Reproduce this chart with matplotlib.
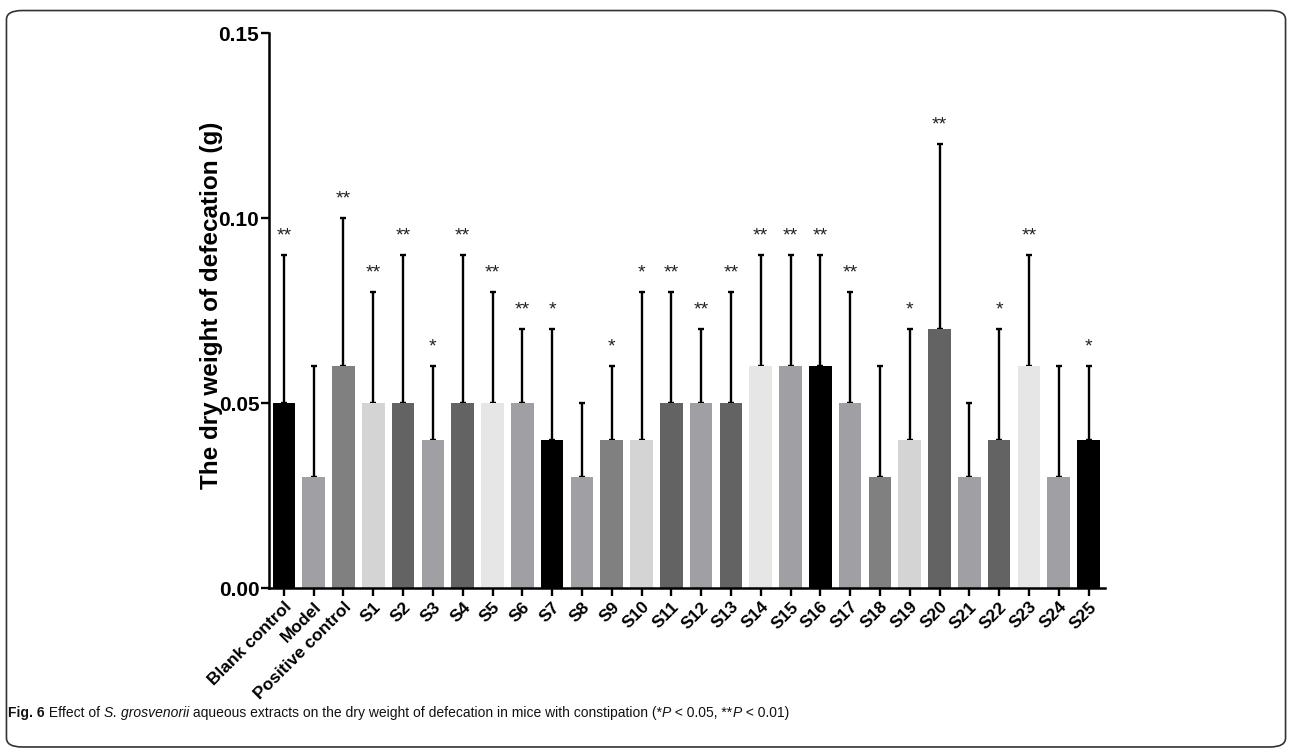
import numpy as np
import matplotlib
matplotlib.use("Agg")
import matplotlib.pyplot as plt
from matplotlib.patches import FancyBboxPatch

plt.rcParams['font.family'] = ['Liberation Sans', 'DejaVu Sans']

# data
groups = ["Blank control", "Model", "Positive control"] + ["S%d" % i for i in range(1, 26)]
means = [0.05, 0.03, 0.06, 0.05, 0.05, 0.04, 0.05, 0.05, 0.05, 0.04,
         0.03, 0.04, 0.04, 0.05, 0.05, 0.05, 0.06, 0.06, 0.06, 0.05,
         0.03, 0.04, 0.07, 0.03, 0.04, 0.06, 0.03, 0.04]
err_top = [0.09, 0.06, 0.10, 0.08, 0.09, 0.06, 0.09, 0.08, 0.07, 0.07,
           0.05, 0.06, 0.08, 0.08, 0.07, 0.08, 0.09, 0.09, 0.09, 0.08,
           0.06, 0.07, 0.12, 0.05, 0.07, 0.09, 0.06, 0.06]
stars = ["**", "", "**", "**", "**", "*", "**", "**", "**", "*",
         "", "*", "*", "**", "**", "**", "**", "**", "**", "**",
         "", "*", "**", "", "*", "**", "", "*"]

palette = ["#000000", "#a0a0a4", "#808080", "#d4d4d4", "#636363",
           "#a0a0a4", "#636363", "#e6e6e6", "#a0a0a4"]

means = np.array(means)
err_top = np.array(err_top)
x = np.arange(len(groups))
colors = [palette[i % len(palette)] for i in range(len(groups))]

fig = plt.figure(figsize=(12.92, 7.53), dpi=100)
ax = fig.add_axes([0.2082, 0.2191, 0.647, 0.737])

ax.errorbar(x, means, yerr=[np.zeros_like(means), err_top - means], fmt="none",
            ecolor="black", elinewidth=1.7, capsize=2.4, capthick=1.7, zorder=1)
ax.bar(x, means, width=0.76, color=colors, edgecolor="none", zorder=2)

for xi, top, s in zip(x, err_top, stars):
    if s:
        ax.text(xi, top + 0.0028, s, ha="center", va="bottom", fontsize=14,
                color="#222222")

ax.set_xlim(-0.5, len(groups) - 0.45)
ax.set_ylim(0, 0.15)
ax.set_yticks([0.00, 0.05, 0.10, 0.15])
ax.set_yticklabels(["0.00", "0.05", "0.10", "0.15"], fontsize=15, fontweight="bold")
ax.set_xticks(x)
ax.set_xticklabels(groups, rotation=45, ha="right", rotation_mode="anchor",
                   fontsize=12.5, fontweight="bold")
ax.tick_params(axis="y", length=6, width=1.7, pad=1)
ax.tick_params(axis="x", length=6, width=1.7, pad=2)
for side in ["top", "right"]:
    ax.spines[side].set_visible(False)
for side in ["left", "bottom"]:
    ax.spines[side].set_linewidth(1.8)

ax.set_ylabel("The dry weight of defecation (g)", fontsize=17.5, fontweight="bold")
ax.yaxis.set_label_coords(-0.055, 0.51)

# rounded frame around the figure
frame = FancyBboxPatch((0.005, 0.008), 0.99, 0.978, boxstyle="round,pad=0,rounding_size=0.012",
                       transform=fig.transFigure, facecolor="none", edgecolor="#333333",
                       linewidth=1.2)
fig.patches.append(frame)

# caption, written piece by piece
pieces = [("Fig. 6", "bold", "normal"), (" Effect of ", "normal", "normal"),
          ("S. grosvenorii", "normal", "italic"),
          (" aqueous extracts on the dry weight of defecation in mice with constipation (*", "normal", "normal"),
          ("P", "normal", "italic"), (" < 0.05, **", "normal", "normal"),
          ("P", "normal", "italic"), (" < 0.01)", "normal", "normal")]
renderer = fig.canvas.get_renderer()
xpos = 8 / 1292
for txt, w, st in pieces:
    t = fig.text(xpos, 1 - 713 / 753, txt, fontsize=10, fontweight=w, fontstyle=st,
                 va="center", ha="left", color="#111111")
    bb = t.get_window_extent(renderer=renderer)
    xpos += bb.width / fig.bbox.width

fig.savefig("out.png", dpi=100)
